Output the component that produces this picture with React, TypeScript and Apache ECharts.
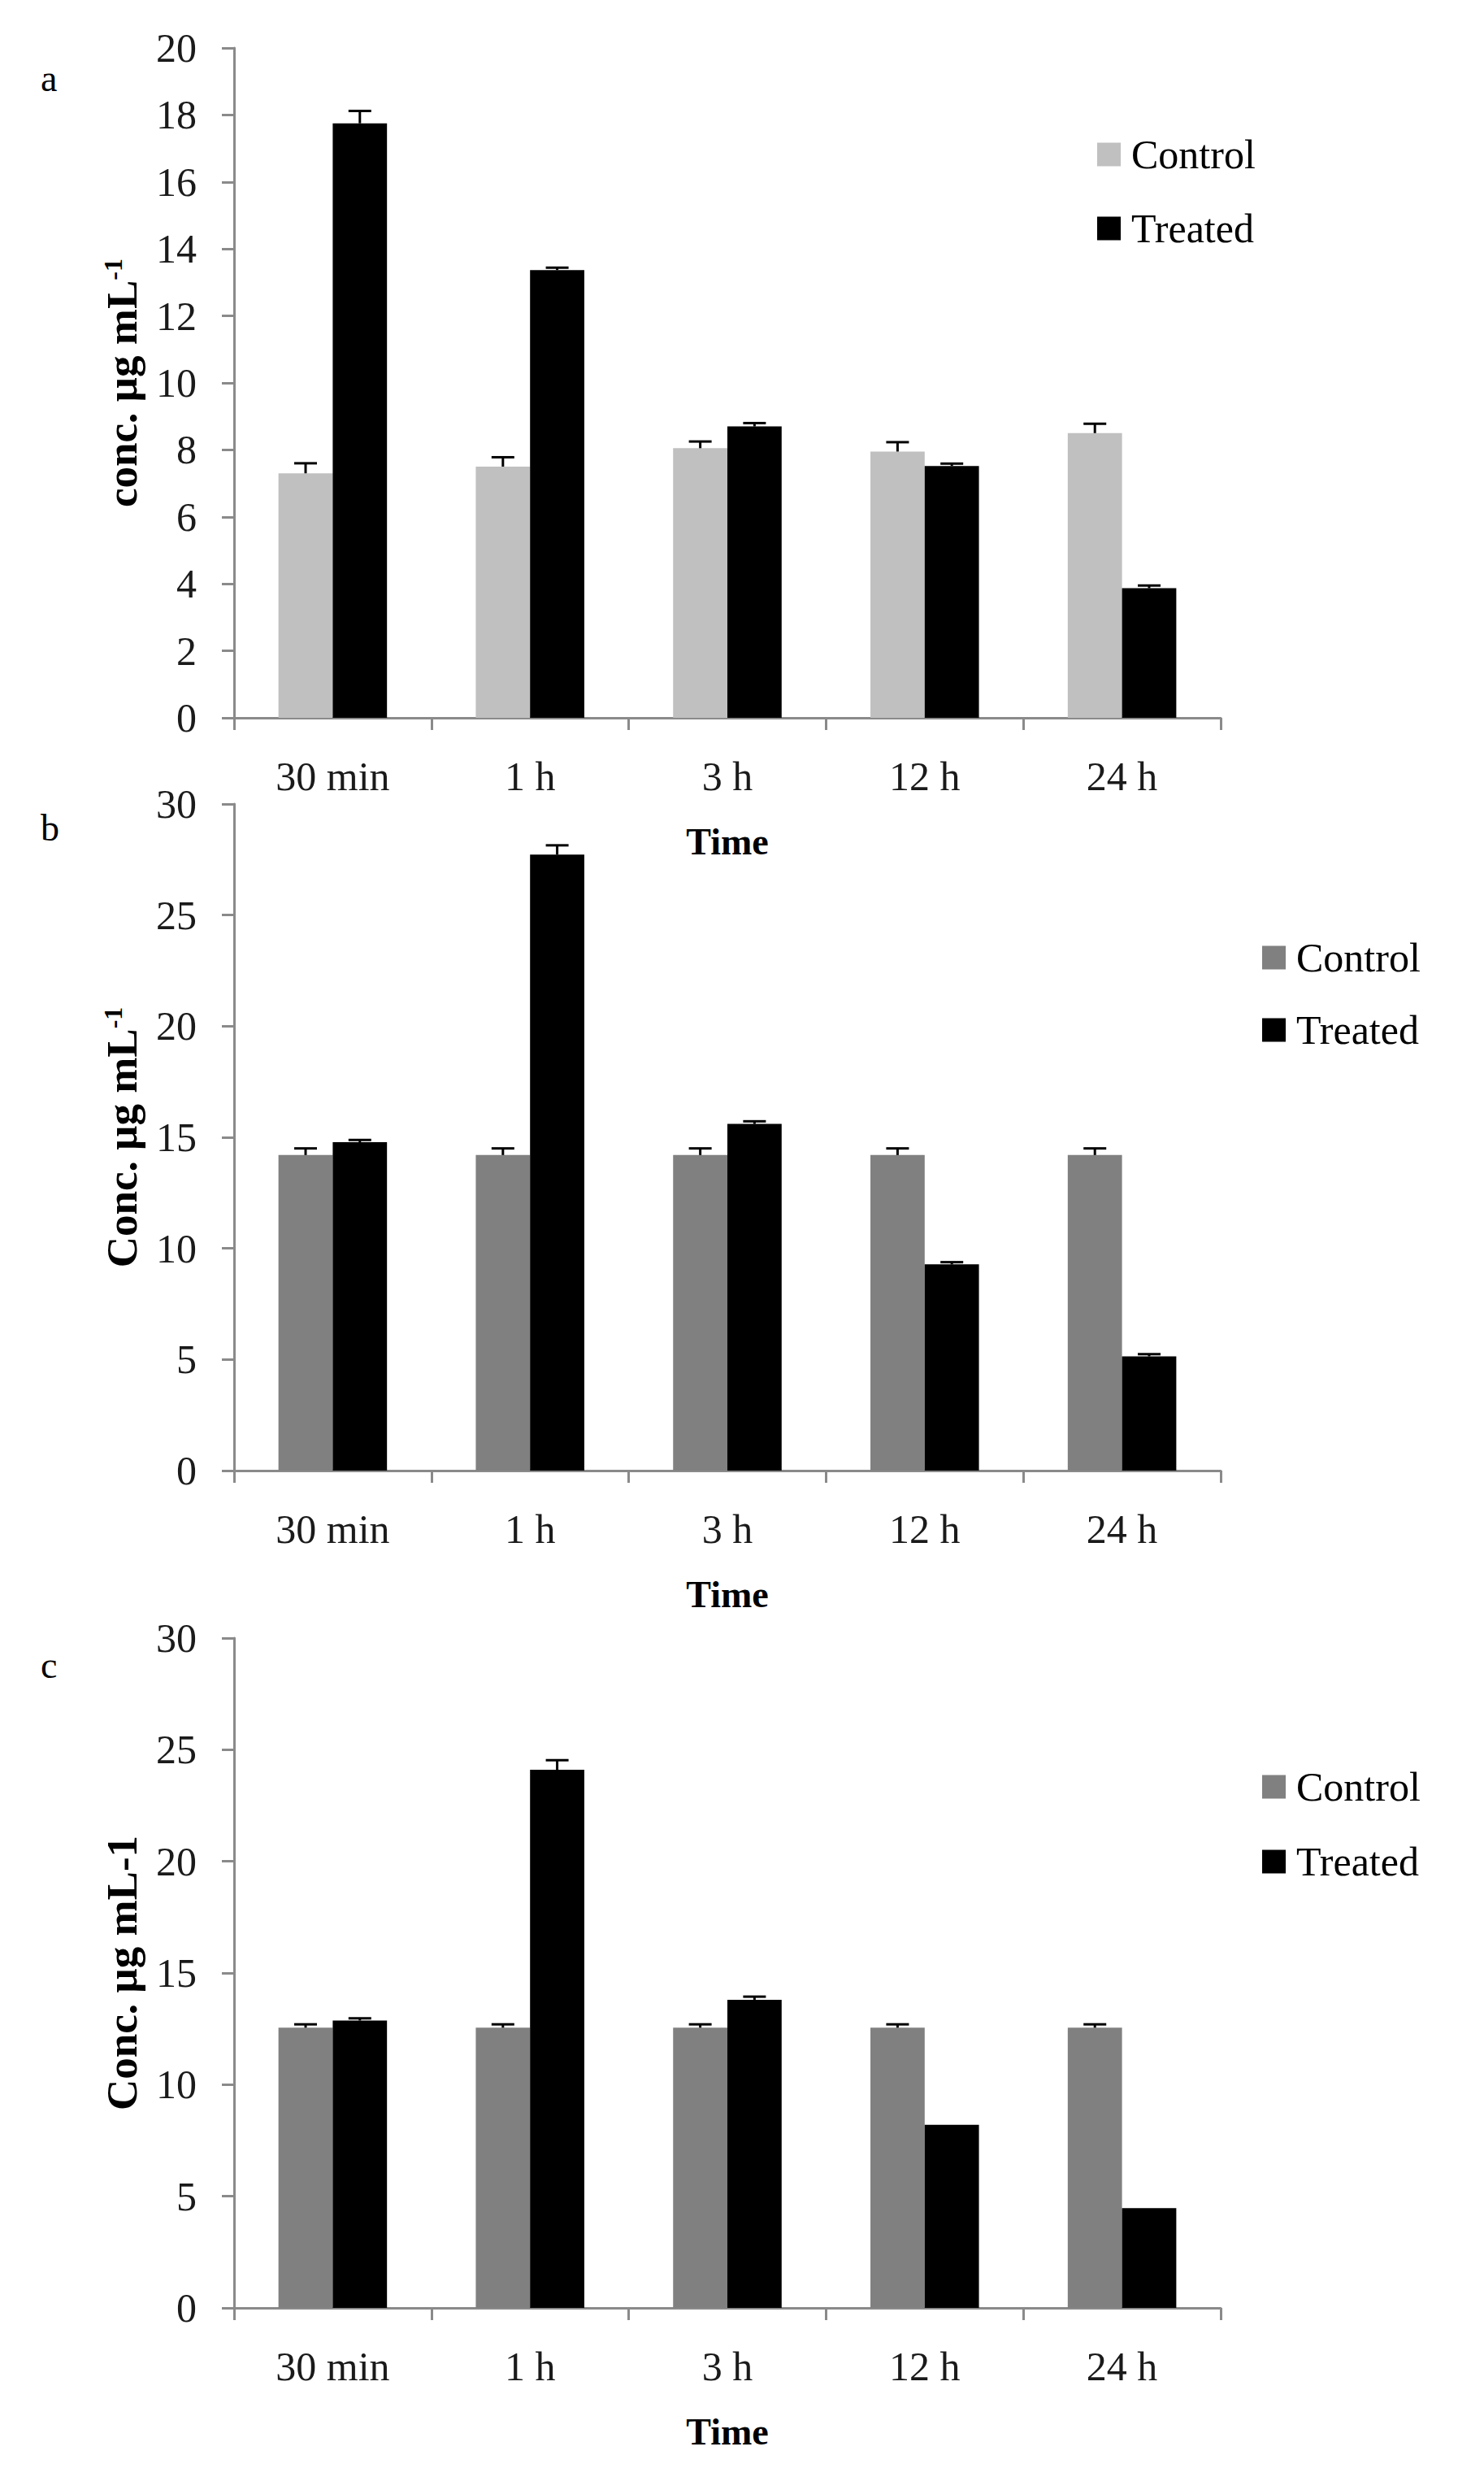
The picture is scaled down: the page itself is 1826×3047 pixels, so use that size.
import React, { useEffect, useRef } from "react";
import * as echarts from "echarts";

const categories = ["30 min", "1 h", "3 h", "12 h", "24 h"];

const aControl = [7.3, 7.5, 8.05, 7.95, 8.5];
const aControlErr = [0.3, 0.28, 0.2, 0.28, 0.28];
const aTreated = [17.75, 13.37, 8.7, 7.52, 3.87];
const aTreatedErr = [0.37, 0.07, 0.1, 0.07, 0.08];

const bControl = [14.2, 14.2, 14.2, 14.2, 14.2];
const bControlErr = [0.3, 0.3, 0.3, 0.3, 0.3];
const bTreated = [14.78, 27.72, 15.6, 9.28, 5.14];
const bTreatedErr = [0.1, 0.42, 0.12, 0.1, 0.1];

const cControl = [12.55, 12.55, 12.55, 12.55, 12.55];
const cControlErr = [0.15, 0.15, 0.15, 0.15, 0.15];
const cTreated = [12.87, 24.1, 13.8, 8.2, 4.47];
const cTreatedErr = [0.1, 0.43, 0.14, 0, 0];

const panelLetters = ["a", "b", "c"];
const yTitles = ["conc. µg mL{sup|-1}", "Conc. µg mL{sup|-1}", "Conc. µg mL-1"];
const yMax = [20, 30, 30];
const yInterval = [2, 5, 5];

const SERIF = "'Liberation Serif', 'Times New Roman', serif";
const AXIS_GRAY = "#8a8a8a";

export default function App() {
  const ref = useRef<HTMLDivElement>(null);

  useEffect(() => {
    document.body.style.margin = "0";
    if (!ref.current) return;
    const chart = echarts.init(ref.current, null, { renderer: "svg" });

    const panels = [
      { control: aControl, cErr: aControlErr, treated: aTreated, tErr: aTreatedErr, controlColor: "#c0c0c0" },
      { control: bControl, cErr: bControlErr, treated: bTreated, tErr: bTreatedErr, controlColor: "#808080" },
      { control: cControl, cErr: cControlErr, treated: cTreated, tErr: cTreatedErr, controlColor: "#808080" },
    ];

    const grids = [
      { left: 288, top: 59, width: 1214, height: 824 },
      { left: 288, top: 989, width: 1214, height: 820 },
      { left: 288, top: 2015, width: 1214, height: 824 },
    ];

    const legendTops = [160, 1148, 2168];
    const legendLefts = [1345, 1548, 1548];
    const legendGaps = [41, 39, 42];
    const letterY = [98, 1020, 2050];

    const errRender = (side: number) => (params: any, api: any) => {
      const x = api.value(0);
      const y = api.value(1);
      const e = api.value(2);
      if (!e) return null;
      const p = api.coord([x, y]);
      const t = api.coord([x, y + e]);
      const bw = api.size([1, 0])[0];
      const cx = p[0] + side * bw * 0.1375;
      return {
        type: "group",
        children: [
          { type: "line", shape: { x1: cx, y1: p[1], x2: cx, y2: t[1] }, style: { stroke: "#000", lineWidth: 3 } },
          { type: "line", shape: { x1: cx - 14, y1: t[1], x2: cx + 14, y2: t[1] }, style: { stroke: "#000", lineWidth: 3 } },
        ],
      };
    };

    const series: any[] = [];
    panels.forEach((p, i) => {
      series.push({
        name: "Control",
        type: "bar",
        xAxisIndex: i,
        yAxisIndex: i,
        data: p.control,
        itemStyle: { color: p.controlColor },
        barGap: "0%",
        barCategoryGap: "45%",
      });
      series.push({
        name: "Treated",
        type: "bar",
        xAxisIndex: i,
        yAxisIndex: i,
        data: p.treated,
        itemStyle: { color: "#000000" },
        barGap: "0%",
        barCategoryGap: "45%",
      });
      series.push({
        name: "errC" + i,
        type: "custom",
        xAxisIndex: i,
        yAxisIndex: i,
        renderItem: errRender(-1),
        encode: { x: 0, y: 1 },
        data: p.control.map((v, k) => [k, v, p.cErr[k]]),
        z: 5,
      });
      series.push({
        name: "errT" + i,
        type: "custom",
        xAxisIndex: i,
        yAxisIndex: i,
        renderItem: errRender(1),
        encode: { x: 0, y: 1 },
        data: p.treated.map((v, k) => [k, v, p.tErr[k]]),
        z: 5,
      });
    });

    const option: any = {
      animation: false,
      backgroundColor: "#ffffff",
      grid: grids,
      xAxis: grids.map((_, i) => ({
        type: "category",
        gridIndex: i,
        data: categories,
        name: "Time",
        nameLocation: "middle",
        nameGap: 129,
        nameTextStyle: { fontFamily: SERIF, fontWeight: "bold", fontSize: 46, lineHeight: 46, color: "#000" },
        axisLine: { show: true, lineStyle: { color: AXIS_GRAY, width: 3 } },
        axisTick: { show: true, length: 15, lineStyle: { color: AXIS_GRAY, width: 3 } },
        axisLabel: { margin: 46, fontFamily: SERIF, fontSize: 50, lineHeight: 52, color: "#1a1a1a" },
        splitLine: { show: false },
      })),
      yAxis: grids.map((_, i) => ({
        type: "value",
        gridIndex: i,
        min: 0,
        max: yMax[i],
        interval: yInterval[i],
        name: yTitles[i],
        nameLocation: "middle",
        nameRotate: 90,
        nameGap: 112,
        nameTextStyle: {
          fontFamily: SERIF,
          fontWeight: "bold",
          fontSize: 53,
          color: "#000",
          rich: {
            sup: { fontFamily: SERIF, fontWeight: "bold", fontSize: 32, color: "#000", verticalAlign: "top", padding: [0, 0, 20, 0] },
          },
        },
        axisLine: { show: true, lineStyle: { color: AXIS_GRAY, width: 3 } },
        axisTick: { show: true, length: 15, lineStyle: { color: AXIS_GRAY, width: 3 } },
        axisLabel: { margin: 46, fontFamily: SERIF, fontSize: 50, color: "#1a1a1a" },
        splitLine: { show: false },
      })),
      legend: panels.map((p, i) => ({
        orient: "vertical",
        left: legendLefts[i],
        top: legendTops[i],
        itemWidth: 29,
        itemHeight: 29,
        itemGap: legendGaps[i],
        icon: "rect",
        selectedMode: false,
        textStyle: { fontFamily: SERIF, fontSize: 50, lineHeight: 50, color: "#000", padding: [0, 0, 0, 8] },
        data: [
          { name: "Control", itemStyle: { color: p.controlColor } },
          { name: "Treated", itemStyle: { color: "#000000" } },
        ],
      })),
      graphic: panelLetters.map((l, i) => ({
        type: "text",
        left: 50,
        top: letterY[i] - 25,
        style: { text: l, font: `46px ${SERIF}`, fill: "#000" },
      })),
      series,
    };

    chart.setOption(option);
    return () => chart.dispose();
  }, []);

  return <div ref={ref} style={{ width: 1826, height: 3047 }} />;
}
